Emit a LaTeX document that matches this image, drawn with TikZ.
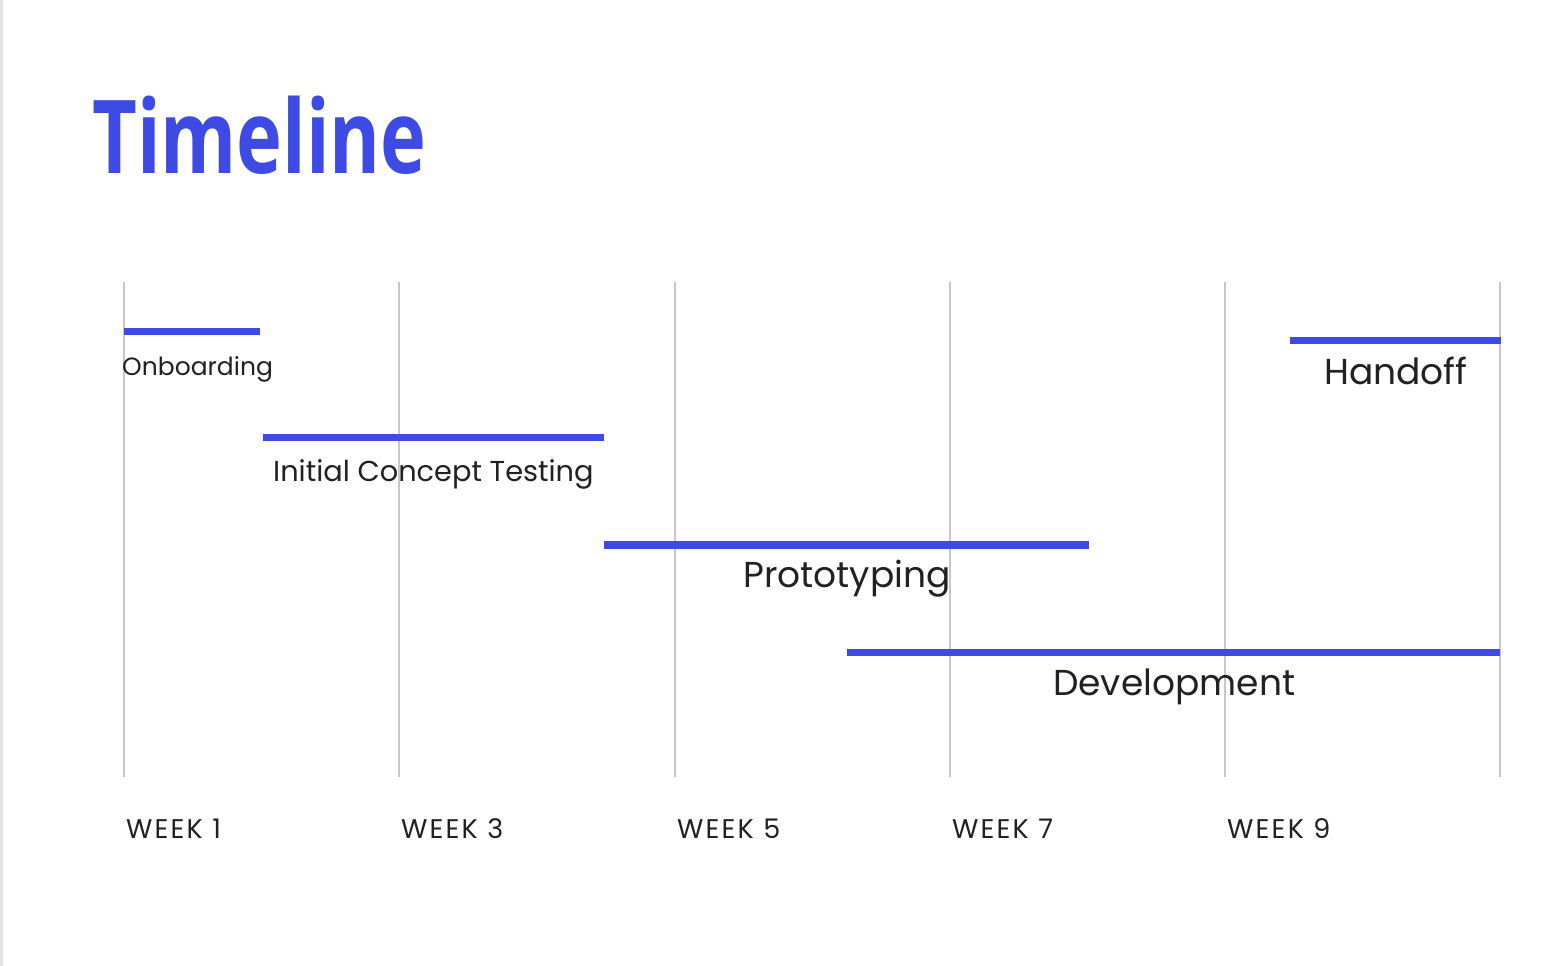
\documentclass[tikz,border=0pt]{standalone}
\usepackage{fontspec}
\setmainfont{Poppins}
\newfontfamily\titlefont[FakeStretch=0.76]{Open Sans}
\newfontfamily\weekfont[LetterSpace=8]{Poppins}
\definecolor{tlblue}{RGB}{61,75,228}
\definecolor{gridgrey}{RGB}{200,200,200}
\begin{document}
\begin{tikzpicture}[x=1pt,y=-1pt,
  gridline/.style={draw=gridgrey,line width=1.2pt},
  bar/.style={draw=tlblue,line width=7.5pt},
  lbl/.style={anchor=base west,inner sep=0pt,text=black!87},
  week/.style={anchor=base west,inner sep=0pt,text=black!87,font=\weekfont\fontsize{27}{30}\selectfont}]
\useasboundingbox[fill=white] (0,0) rectangle (1544,966);
\fill[black!10] (0,0) rectangle (2.5,966);
\node[anchor=base west,inner sep=0pt,text=tlblue,font=\titlefont\bfseries\fontsize{102}{108}\selectfont] (title) at (92,173) {Timeline};
% grid
\foreach \x/\n in {124/a,399/b,675/c,950/d,1225/e,1500/f}{
  \coordinate (g\n t) at (\x,282);
  \coordinate (g\n b) at (\x,777);
  \draw[gridline] (g\n t) -- (g\n b);
}
% bars
\coordinate (b1s) at (124,331.5); \coordinate (b1e) at (260,331.5);
\coordinate (b2s) at (263,437.5); \coordinate (b2e) at (604,437.5);
\coordinate (b3s) at (604,545); \coordinate (b3e) at (1089,545);
\coordinate (b4s) at (847,652.5); \coordinate (b4e) at (1500,652.5);
\coordinate (b5s) at (1290,340.5); \coordinate (b5e) at (1501,340.5);
\draw[bar] (b1s) -- (b1e);
\draw[bar] (b2s) -- (b2e);
\draw[bar] (b3s) -- (b3e);
\draw[bar] (b4s) -- (b4e);
\draw[bar] (b5s) -- (b5e);
% labels
\node[lbl,font=\fontsize{25}{28}\selectfont] (l1) at (122,375) {Onboarding};
\node[lbl,font=\fontsize{28.8}{32}\selectfont] (l2) at (273,481) {Initial Concept Testing};
\node[lbl,font=\fontsize{36}{40}\selectfont] (l3) at (743,587) {Prototyping};
\node[lbl,font=\fontsize{36}{40}\selectfont] (l4) at (1053,695) {Development};
\node[lbl,font=\fontsize{36}{40}\selectfont] (l5) at (1324,384) {Handoff};
% weeks
\node[week] (w1) at (126,838) {WEEK 1};
\node[week] (w3) at (401,838) {WEEK 3};
\node[week] (w5) at (677,838) {WEEK 5};
\node[week] (w7) at (952,838) {WEEK 7};
\node[week] (w9) at (1227,838) {WEEK 9};
\end{tikzpicture}
\end{document}
